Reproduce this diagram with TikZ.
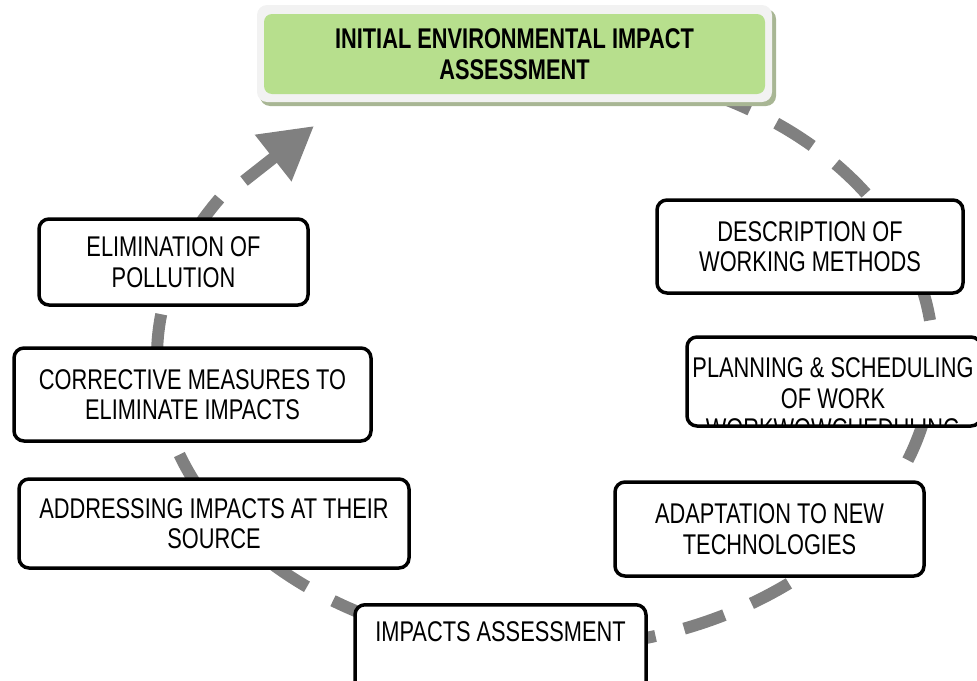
\documentclass[tikz,border=0pt]{standalone}
\usepackage{fontspec}
\setmainfont{Liberation Sans}[FakeStretch=0.765]
\usetikzlibrary{calc,arrows.meta}
\definecolor{cyclegray}{RGB}{128,128,128}
\definecolor{headgreen}{RGB}{183,223,141}
\definecolor{headframe}{RGB}{242,242,242}
\definecolor{headshadow}{RGB}{168,182,148}
\begin{document}
\begin{tikzpicture}[x=1pt,y=-1pt,
  boxfont/.style={font=\fontsize{28.5}{30.5}\selectfont},
  stepbox/.style={boxfont, draw=black, line width=3.5pt, rounded corners=10pt,
    fill=white, align=center, inner sep=0pt},
  ring/.style={draw=cyclegray, line width=12pt, dash pattern=on 42.5pt off 29.5pt,
    dash phase=37.5pt},
  ringhead/.style={draw=cyclegray, fill=cyclegray, line width=12pt,
    -{Triangle[length=52pt,width=56pt]}},
]
\useasboundingbox (0,0) rectangle (977,680);

% dashed elliptic ring running clockwise round the steps
\coordinate (ctr) at (545,357);
\draw[ring] ($(ctr)+(-70:388 and 291)$) coordinate (ringstart)
  arc[start angle=-70, end angle=213, x radius=388, y radius=291]
  coordinate (ringend);
\coordinate (shaft) at (244,181);
\coordinate (tip) at (314,126);
\draw[ringhead] (shaft) -- (tip);

% heading block
\fill[headshadow, rounded corners=10pt] (260,9) rectangle (776,106);
\node[fill=headframe, rounded corners=10pt, minimum width=515pt,
  minimum height=97pt, inner sep=0pt] (frame) at (514.5,53.5) {};
\node[boxfont, fill=headgreen, rounded corners=8pt, minimum width=501pt,
  minimum height=80pt, inner sep=0pt, align=center] (head) at (514.5,54)
  {\bfseries INITIAL ENVIRONMENTAL IMPACT\\\bfseries ASSESSMENT};

% steps
\node[stepbox, minimum width=306pt, minimum height=93pt] (methods)
  at (810,246.5) {DESCRIPTION OF\\WORKING METHODS};
\node[stepbox, minimum width=294pt, minimum height=89pt] (planning)
  at (834,381.5) {};
\begin{scope}
  \clip (690,340) rectangle (977,424);
  \node[boxfont, align=center, inner sep=0pt] (plantext) at (833,398.5)
    {PLANNING \& SCHEDULING\\OF WORK\\WORKWOWCHEDULING};
\end{scope}
\node[stepbox, minimum width=309pt, minimum height=94pt] (adapt)
  at (769.5,529) {ADAPTATION TO NEW\\TECHNOLOGIES};
\node[stepbox, minimum width=291pt, text height=37pt, text depth=55pt,
  anchor=north] (impacts) at (500.5,603) {IMPACTS ASSESSMENT};
\node[stepbox, minimum width=390pt, minimum height=89pt] (source)
  at (214,523.5) {ADDRESSING IMPACTS AT THEIR\\SOURCE};
\node[stepbox, minimum width=357pt, minimum height=93pt] (corrective)
  at (192.5,394.5) {CORRECTIVE MEASURES TO\\ELIMINATE IMPACTS};
\node[stepbox, minimum width=269pt, minimum height=86pt] (elimination)
  at (173.5,262) {ELIMINATION OF\\POLLUTION};
\end{tikzpicture}
\end{document}
